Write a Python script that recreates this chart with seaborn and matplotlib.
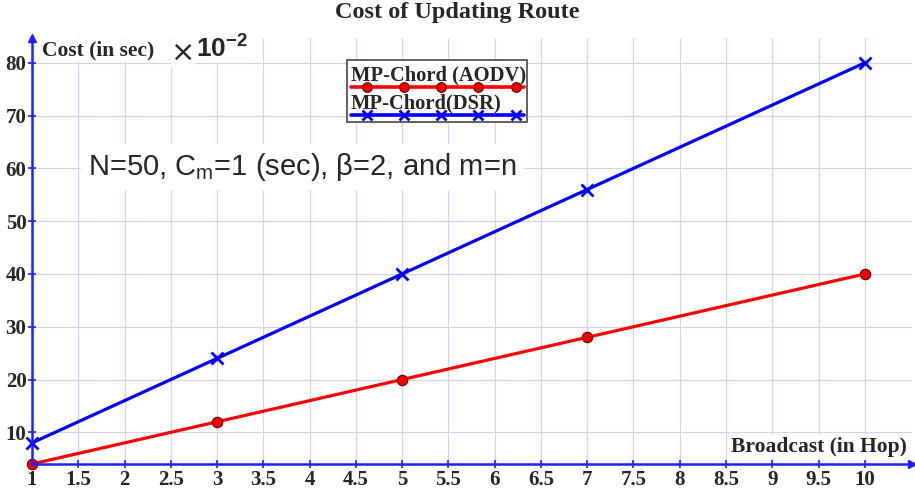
import numpy as np
import pandas as pd
import matplotlib
matplotlib.use("Agg")
import matplotlib.pyplot as plt
from matplotlib.lines import Line2D
from matplotlib.patches import Rectangle
import seaborn as sns

# ── Data ──────────────────────────────────────────────────────────
HOPS     = [1, 3, 5, 7, 10]
COST_AOD = [4, 12, 20, 28, 40]
COST_DSR = [8, 24, 40, 56, 80]
SERIES   = ["MP-Chord (AODV)", "MP-Chord(DSR)"]
X_TICKS  = [1, 1.5, 2, 2.5, 3, 3.5, 4, 4.5, 5, 5.5, 6, 6.5, 7, 7.5, 8, 8.5, 9, 9.5, 10]
Y_TICKS  = [10, 20, 30, 40, 50, 60, 70, 80]

df = pd.DataFrame({
    "hop":    HOPS * 2,
    "cost":   COST_AOD + COST_DSR,
    "series": [SERIES[0]] * len(HOPS) + [SERIES[1]] * len(HOPS),
})

# ── Style ─────────────────────────────────────────────────────────
sns.set_theme(style="white")
plt.rcParams["font.family"] = ["Liberation Serif", "DejaVu Serif"]
plt.rcParams["mathtext.fontset"] = "custom"
plt.rcParams["mathtext.rm"] = "Liberation Sans"
plt.rcParams["mathtext.bf"] = "Liberation Sans:bold"

AXIS_BLUE = "#2020ff"
GRID_COL  = "#d2d2fa"
RED, BLUE = "#ff0000", "#0000ff"
SANS = ["Liberation Sans", "DejaVu Sans"]

W, H = 915, 493
fig = plt.figure(figsize=(W / 100, H / 100), dpi=100)
ax = fig.add_axes([32 / W, 1 - 464 / H, 880 / W, (464 - 38) / H])
ax.set_xlim(1, 10.51)
ax.set_ylim(4, 84.7)

palette = {SERIES[0]: RED, SERIES[1]: BLUE}
sns.lineplot(data=df, x="hop", y="cost", hue="series", palette=palette,
             ax=ax, linewidth=2.3, legend=False, zorder=3)
aod = df[df["series"] == SERIES[0]]
dsr = df[df["series"] == SERIES[1]]
ax.plot(aod["hop"], aod["cost"], "o", ms=7.5, mfc="#ee0000", mec="#700000",
        mew=0.8, zorder=4, clip_on=False)
ax.plot(dsr["hop"], dsr["cost"], "x", ms=8, color=BLUE, mew=2,
        zorder=4, clip_on=False)

# grid
ax.set_xticks(X_TICKS)
ax.set_yticks(Y_TICKS)
ax.grid(True, color=GRID_COL, linewidth=0.9, linestyle="-")
ax.set_axisbelow(True)

# axes as blue arrows
for s in ["top", "right"]:
    ax.spines[s].set_visible(False)
for s in ["left", "bottom"]:
    ax.spines[s].set_color(AXIS_BLUE)
    ax.spines[s].set_linewidth(1.8)
    ax.spines[s].set_zorder(5)
ax.plot(1, 84.7, "^", color=AXIS_BLUE, ms=6, clip_on=False, zorder=6)
ax.plot(10.51, 4, ">", color=AXIS_BLUE, ms=6, clip_on=False, zorder=6)

ax.tick_params(axis="both", direction="inout", length=6, width=1.2,
               color=AXIS_BLUE, labelsize=15, pad=1, bottom=True, left=True)
ax.set_xticklabels([f"{t:g}" for t in X_TICKS], fontweight="bold")
ax.set_yticklabels([str(t) for t in Y_TICKS], fontweight="bold")
ax.set_xlabel("")
ax.set_ylabel("")

# labels inside the plot
bg = dict(facecolor="white", edgecolor="none", pad=1)
ax.text(1.11, 82.4, "Cost (in sec)", fontsize=15.5, fontweight="bold",
        ha="left", va="center", bbox=bg, zorder=5)
ax.text(2.5, 81.9, "×", fontsize=21, family=["DejaVu Sans"],
        ha="left", va="center", bbox=dict(facecolor="white", edgecolor="none", pad=0),
        zorder=5)
ax.text(2.77, 82.6, r"$\mathbf{10^{\mathbf{-2}}}$", fontsize=19,
        ha="left", va="center", bbox=dict(facecolor="white", edgecolor="none", pad=0),
        zorder=5)
ax.text(10.46, 7.3, "Broadcast (in Hop)", fontsize=15.5, fontweight="bold",
        ha="right", va="center", bbox=bg, zorder=5)
ax.text(1.6, 60.3, r"N=50, C$_\mathregular{m}$=1 (sec), β=2, and m=n",
        fontsize=21, family=SANS, ha="left", va="center",
        bbox=dict(facecolor="white", edgecolor="none", pad=5), zorder=5)

# legend (text above line, drawn in figure pixels)
def fx(px):
    return px / W

def fy(py):
    return 1 - py / H

fig.patches.append(Rectangle((fx(347), fy(122)), fx(527) - fx(347), fy(60) - fy(122),
                             transform=fig.transFigure, facecolor="white",
                             edgecolor="#555555", linewidth=1.3, zorder=6))
leg_x = [fx(p) for p in [367, 404, 441, 478, 516]]
fig.lines.append(Line2D([fx(351), fx(524)], [fy(87)] * 2, color=RED, lw=2.6,
                        transform=fig.transFigure, zorder=7))
fig.lines.append(Line2D(leg_x, [fy(87)] * 5, ls="none", marker="o", ms=7,
                        mfc="#ee0000", mec="#700000", mew=0.8,
                        transform=fig.transFigure, zorder=7))
fig.lines.append(Line2D([fx(351), fx(524)], [fy(115)] * 2, color=BLUE, lw=2.6,
                        transform=fig.transFigure, zorder=7))
fig.lines.append(Line2D(leg_x, [fy(115)] * 5, ls="none", marker="x", ms=7,
                        mew=2, color=BLUE, transform=fig.transFigure, zorder=7))
fig.text(fx(351), fy(75), SERIES[0], fontsize=14.8, fontweight="bold",
         ha="left", va="center", zorder=8)
fig.text(fx(351), fy(103), SERIES[1], fontsize=14.8, fontweight="bold",
         ha="left", va="center", zorder=8)

fig.suptitle("Cost of Updating Route", x=0.5, y=0.995, fontsize=17.5,
             fontweight="bold")

fig.savefig("out.png", dpi=100)
